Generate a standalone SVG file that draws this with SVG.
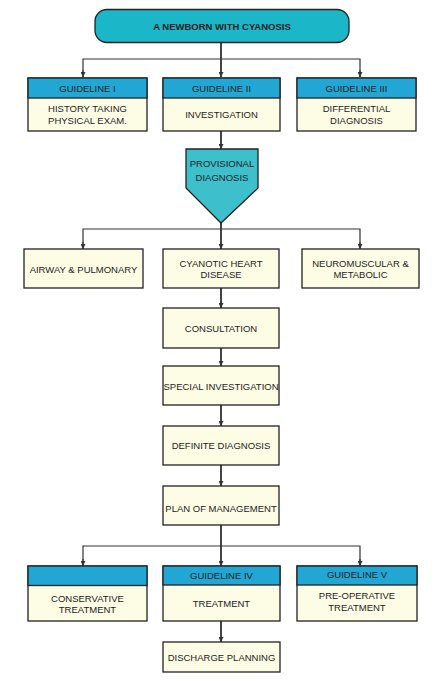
<svg xmlns="http://www.w3.org/2000/svg" width="435" height="681" viewBox="0 0 435 681">
<defs>
<marker id="ah" viewBox="0 0 10 10" refX="10" refY="5" markerWidth="5" markerHeight="5" orient="auto" markerUnits="userSpaceOnUse">
<path d="M0,0 L10,5 L0,10 z" fill="#333"/>
</marker>
<style>
.box{fill:#fdfde6;stroke:#222;stroke-width:1.3}
.hdr{fill:#22a6d4;stroke:#222;stroke-width:1.3}
.t{font-family:"Liberation Sans",Arial,sans-serif;font-size:9.5px;fill:#222;text-anchor:middle}
.tb{font-family:"Liberation Sans",Arial,sans-serif;font-size:9.5px;font-weight:bold;fill:#222;text-anchor:middle}
.c{fill:none;stroke:#333;stroke-width:1.2}
.cm{fill:none;stroke:#444;stroke-width:2}
</style>
</defs>
<rect width="435" height="681" fill="#fff"/>
<g id="connectors">
<path class="cm" d="M221,43 V77" marker-end="url(#ah)"/>
<path class="c" d="M83,77 V59 H360 V77"/>
<path class="c" d="M83,70 V77" marker-end="url(#ah)"/>
<path class="c" d="M360,70 V77" marker-end="url(#ah)"/>
<path class="cm" d="M221,131 V149" marker-end="url(#ah)"/>
<path class="cm" d="M221,223 V249" marker-end="url(#ah)"/>
<path class="c" d="M83,248 V229 H360 V248"/>
<path class="c" d="M83,242 V249" marker-end="url(#ah)"/>
<path class="c" d="M360,242 V249" marker-end="url(#ah)"/>
<path class="cm" d="M221,288 V308" marker-end="url(#ah)"/>
<path class="cm" d="M221,348 V366" marker-end="url(#ah)"/>
<path class="cm" d="M221,405 V426" marker-end="url(#ah)"/>
<path class="cm" d="M221,465 V486" marker-end="url(#ah)"/>
<path class="cm" d="M221,525 V566" marker-end="url(#ah)"/>
<path class="c" d="M83,565 V546 H360 V565"/>
<path class="c" d="M83,559 V566" marker-end="url(#ah)"/>
<path class="c" d="M360,559 V566" marker-end="url(#ah)"/>
<path class="cm" d="M221,621 V642" marker-end="url(#ah)"/>
</g>
<g id="start">
<rect x="95" y="9.5" width="254" height="33" rx="12" fill="#1bb6c8" stroke="#222" stroke-width="1.3"/>
<text class="tb" x="222" y="29.5">A NEWBORN WITH CYANOSIS</text>
</g>
<g id="g1">
<rect class="box" x="28" y="78" width="119" height="53"/>
<rect class="hdr" x="28" y="78" width="119" height="20"/>
<text class="t" x="87.5" y="92">GUIDELINE I</text>
<text class="t" x="87.5" y="111.5">HISTORY TAKING</text>
<text class="t" x="87.5" y="123.5">PHYSICAL EXAM.</text>
</g>
<g id="g2">
<rect class="box" x="163" y="78" width="117" height="53"/>
<rect class="hdr" x="163" y="78" width="117" height="20"/>
<text class="t" x="221.5" y="92">GUIDELINE II</text>
<text class="t" x="221.5" y="118">INVESTIGATION</text>
</g>
<g id="g3">
<rect class="box" x="297" y="78" width="119" height="53"/>
<rect class="hdr" x="297" y="78" width="119" height="20"/>
<text class="t" x="356.5" y="92">GUIDELINE III</text>
<text class="t" x="356.5" y="111.5">DIFFERENTIAL</text>
<text class="t" x="356.5" y="123.5">DIAGNOSIS</text>
</g>
<g id="provisional">
<path d="M186,149 H258 V188 L221,223 L186,188 Z" fill="#3dbfcc" stroke="#222" stroke-width="1.3"/>
<text class="t" x="222" y="167">PROVISIONAL</text>
<text class="t" x="222" y="181">DIAGNOSIS</text>
</g>
<g id="airway">
<rect class="box" x="24" y="249" width="119" height="39"/>
<text class="t" x="83.5" y="272.5">AIRWAY &amp; PULMONARY</text>
</g>
<g id="cyanotic">
<rect class="box" x="163" y="249" width="116" height="39"/>
<text class="t" x="221" y="266.5">CYANOTIC HEART</text>
<text class="t" x="221" y="278">DISEASE</text>
</g>
<g id="neuro">
<rect class="box" x="302" y="249" width="117" height="39"/>
<text class="t" x="360.5" y="266.5">NEUROMUSCULAR &amp;</text>
<text class="t" x="360.5" y="278">METABOLIC</text>
</g>
<g id="consultation">
<rect class="box" x="163" y="308" width="116" height="40"/>
<text class="t" x="221" y="331.5">CONSULTATION</text>
</g>
<g id="special">
<rect class="box" x="163" y="366" width="116" height="39"/>
<text class="t" x="221" y="389.5">SPECIAL INVESTIGATION</text>
</g>
<g id="definite">
<rect class="box" x="163" y="426" width="116" height="39"/>
<text class="t" x="221" y="448.5">DEFINITE DIAGNOSIS</text>
</g>
<g id="plan">
<rect class="box" x="163" y="486" width="116" height="39"/>
<text class="t" x="221" y="511.5">PLAN OF MANAGEMENT</text>
</g>
<g id="conservative">
<rect class="box" x="28" y="566" width="119" height="55"/>
<rect class="hdr" x="28" y="566" width="119" height="19.5"/>
<text class="t" x="87.5" y="601.5">CONSERVATIVE</text>
<text class="t" x="87.5" y="612.5">TREATMENT</text>
</g>
<g id="g4">
<rect class="box" x="163" y="566" width="117" height="55"/>
<rect class="hdr" x="163" y="566" width="117" height="19"/>
<text class="t" x="221.5" y="579">GUIDELINE IV</text>
<text class="t" x="221.5" y="606.5">TREATMENT</text>
</g>
<g id="g5">
<rect class="box" x="297" y="566" width="120" height="55"/>
<rect class="hdr" x="297" y="566" width="120" height="19"/>
<text class="t" x="357" y="578">GUIDELINE V</text>
<text class="t" x="357" y="598.5">PRE-OPERATIVE</text>
<text class="t" x="357" y="610.5">TREATMENT</text>
</g>
<g id="discharge">
<rect class="box" x="163" y="642" width="117" height="30"/>
<text class="t" x="221.5" y="660.5">DISCHARGE PLANNING</text>
</g>
</svg>
